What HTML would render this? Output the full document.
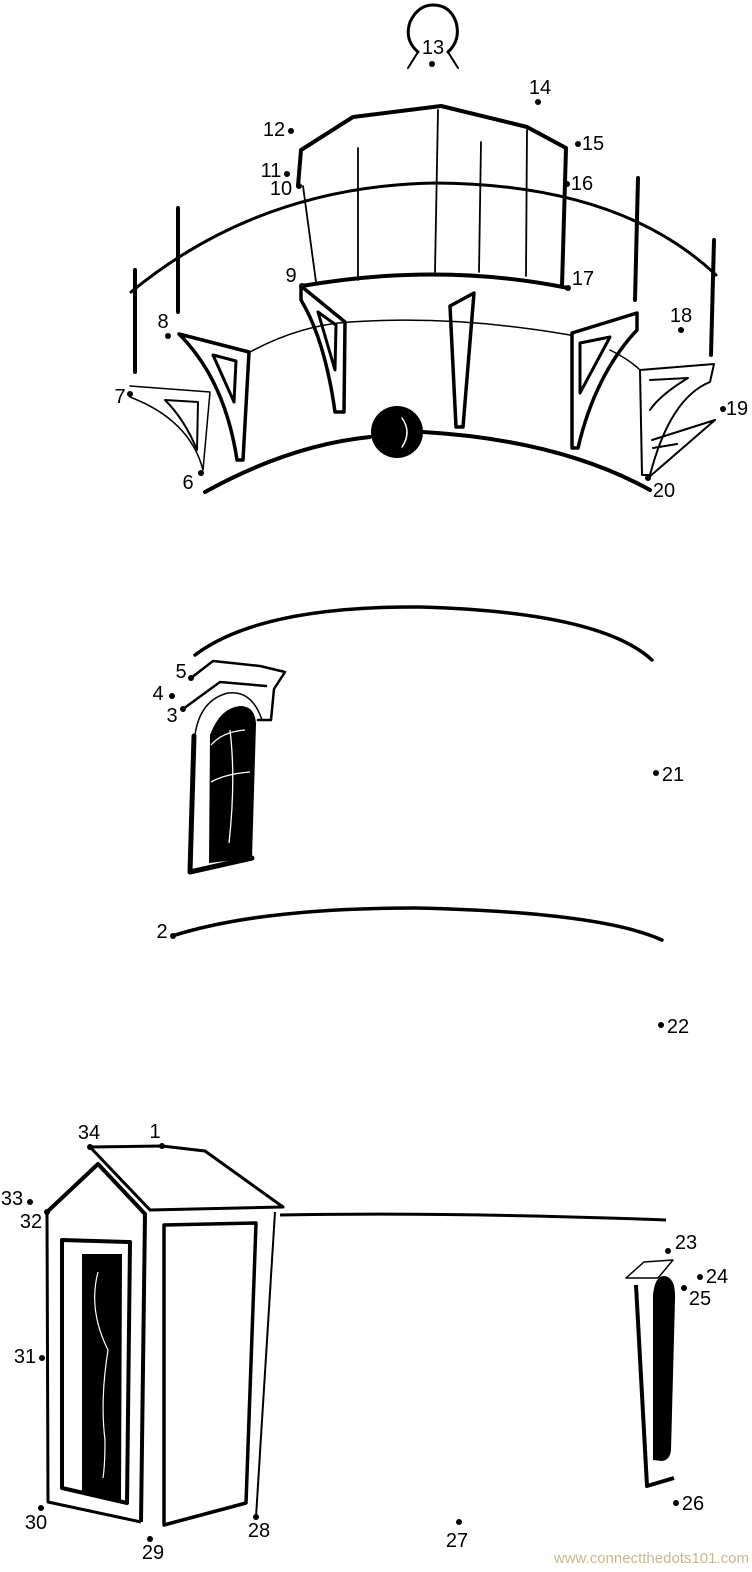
<!DOCTYPE html>
<html><head><meta charset="utf-8"><style>
html,body{margin:0;padding:0;background:#fff;}
svg{display:block;}
text{font-family:"Liberation Sans",sans-serif;font-size:20px;fill:#000;}
</style></head><body>
<svg width="752" height="1572" viewBox="0 0 752 1572" xmlns="http://www.w3.org/2000/svg">
<g fill="none" stroke="#000" stroke-linecap="round" stroke-linejoin="round">
<path d="M418,52 Q404,40 410,22 Q418,5 433,5 Q450,5 456,22 Q461,40 448,52" stroke-width="3"/>
<path d="M418,52 L408,68 M448,52 L458,68" stroke-width="2"/>
<path d="M298,186 L301,150 L353,117 L441,106 L527,127 L566,148 L562,286" stroke-width="4"/>
<path d="M303,186 L316,282 M358,148 L358,280 M438,110 L435,272 M481,142 L479,272 M527,130 L526,276" stroke-width="1.8"/>
<path d="M302,286 Q440,262 568,288" stroke-width="4"/>
<path d="M131,292 Q260,186 435,183 Q620,184 716,275" stroke-width="3"/>
<path d="M178,208 L178,312 M135,270 L135,372 M638,178 L635,300 M714,240 L711,355" stroke-width="4"/>
<path d="M250,352 Q300,325 350,322 Q455,315 570,335 M610,350 Q630,360 640,370" stroke-width="1.5"/>
<path d="M205,492 Q290,445 370,437 M423,432 Q560,440 650,490" stroke-width="4"/>
<circle cx="397" cy="432" r="26" fill="#000" stroke="none"/>
<path d="M402,418 Q412,432 402,447" stroke="#fff" stroke-width="1.5"/>
<path d="M179,334 L249,352 L243,460 L237,460 Q225,380 179,334 Z" stroke-width="3.5"/>
<path d="M213,355 L236,361 L234,402 Z" stroke-width="3"/>
<path d="M130,386 L210,392 L203,470 Q190,420 130,397" stroke-width="1.5"/>
<path d="M165,400 L198,402 L197,450 Q185,420 165,400 Z" stroke-width="2"/>
<path d="M301,286 L345,322 L344,412 L335,412 Q325,340 301,300 Z" stroke-width="3.5"/>
<path d="M318,312 L336,325 L335,370 Z" stroke-width="3"/>
<path d="M450,306 L474,293 L463,427 L456,427 Z" stroke-width="3.5"/>
<path d="M572,333 L637,313 L637,330 Q595,375 578,448 L572,448 Z" stroke-width="3.5"/>
<path d="M580,343 L610,337 L580,393 Z" stroke-width="3"/>
<path d="M640,370 L714,364 L710,382 Q670,398 650,475 L642,475 Z" stroke-width="2"/>
<path d="M650,380 L688,378 Q660,395 650,410 M652,440 L715,420 L648,478 M653,448 L677,444" stroke-width="2"/>
<path d="M195,655 Q260,606 420,607 Q600,612 652,660" stroke-width="3.5"/>
<path d="M172,936 Q260,908 415,908 Q600,912 662,940" stroke-width="3.5"/>
<path d="M191,678 L213,661 L260,666 L285,672 L274,689 L271,720 L258,720" stroke-width="2.5"/>
<path d="M183,709 L220,682 L266,686" stroke-width="2.5"/>
<path d="M262,720 Q252,690 228,693 Q200,700 195,735" stroke-width="1.5"/>
<path d="M194,736 L190,872 L252,858" stroke-width="5"/>
</g>
<path d="M210,735 Q220,708 240,706 Q255,706 256,724 L252,858 L209,863 Z" fill="#000"/>
<path d="M211,745 Q222,732 245,730 M211,782 Q225,774 250,772 M230,730 Q236,780 229,843" stroke="#fff" stroke-width="1.3" fill="none"/>
<g fill="none" stroke="#000" stroke-linejoin="round">
<path d="M90,1147 L162,1146 L205,1151 L283,1207 L150,1210 Z" stroke-width="3"/>
<path d="M47,1212 L98,1164 L145,1214 L141,1522" stroke-width="4"/>
<path d="M47,1212 L48,1502 L141,1522" stroke-width="3"/>
<path d="M164,1225 L256,1223 L246,1503 L164,1525 Z" stroke-width="3.5"/>
<path d="M275,1212 L256,1517" stroke-width="2"/>
<path d="M280,1215 Q450,1212 666,1220" stroke-width="3"/>
<path d="M62,1240 L130,1242 L127,1503 L62,1488 Z" stroke-width="4"/>
<path d="M626,1278 L644,1262 L673,1260 L658,1278 Z" stroke-width="1.5"/>
<path d="M636,1285 L647,1486 L674,1478" stroke-width="4"/>
</g>
<path d="M82,1254 L122,1254 L121,1500 L82,1492 Z" fill="#000"/>
<path d="M98,1272 Q88,1310 108,1350 Q100,1400 105,1440 Q105,1465 103,1478" stroke="#fff" stroke-width="1.2" fill="none"/>
<path d="M653,1295 Q655,1275 665,1276 Q676,1278 675,1300 L671,1450 Q670,1460 662,1461 L653,1460 Z" fill="#000"/>
<g fill="#000">
<circle cx="432" cy="64" r="3"/><circle cx="538" cy="102" r="3"/><circle cx="291" cy="131" r="3"/>
<circle cx="578" cy="144" r="3"/><circle cx="287" cy="174" r="3"/><circle cx="299" cy="186" r="3"/>
<circle cx="567" cy="184" r="3"/><circle cx="302" cy="286" r="3"/><circle cx="568" cy="288" r="3"/>
<circle cx="168" cy="336" r="3"/><circle cx="681" cy="330" r="3"/><circle cx="130" cy="394" r="3"/>
<circle cx="723" cy="409" r="3"/><circle cx="201" cy="473" r="3"/><circle cx="648" cy="478" r="3"/>
<circle cx="191" cy="678" r="3"/><circle cx="172" cy="696" r="3"/><circle cx="183" cy="709" r="3"/>
<circle cx="656" cy="773" r="3"/><circle cx="173" cy="936" r="3"/><circle cx="661" cy="1025" r="3"/>
<circle cx="90" cy="1147" r="3"/><circle cx="162" cy="1146" r="3"/><circle cx="30" cy="1202" r="3"/>
<circle cx="47" cy="1212" r="3"/><circle cx="42" cy="1358" r="3"/><circle cx="41" cy="1508" r="3"/>
<circle cx="150" cy="1539" r="3"/><circle cx="256" cy="1517" r="3"/><circle cx="459" cy="1522" r="3"/>
<circle cx="676" cy="1503" r="3"/><circle cx="684" cy="1288" r="3"/><circle cx="700" cy="1277" r="3"/>
<circle cx="668" cy="1251" r="3"/>
</g>
<g text-anchor="middle" dominant-baseline="central">
<text x="433" y="48">13</text><text x="540" y="88">14</text><text x="274" y="130">12</text>
<text x="593" y="144">15</text><text x="271" y="171">11</text><text x="281" y="189">10</text>
<text x="582" y="184">16</text><text x="291" y="276">9</text><text x="583" y="279">17</text>
<text x="163" y="322">8</text><text x="681" y="316">18</text><text x="120" y="397">7</text>
<text x="737" y="409">19</text><text x="188" y="483">6</text><text x="664" y="491">20</text>
<text x="181" y="672">5</text><text x="158" y="694">4</text><text x="172" y="716">3</text>
<text x="673" y="775">21</text><text x="162" y="932">2</text><text x="678" y="1027">22</text>
<text x="89" y="1133">34</text><text x="155" y="1132">1</text><text x="12" y="1199">33</text>
<text x="31" y="1222">32</text><text x="25" y="1357">31</text><text x="36" y="1523">30</text>
<text x="153" y="1553">29</text><text x="259" y="1531">28</text><text x="457" y="1541">27</text>
<text x="693" y="1504">26</text><text x="700" y="1299">25</text><text x="717" y="1277">24</text>
<text x="686" y="1243">23</text>
</g>
<text x="749" y="1563" text-anchor="end" style="font-size:15px;fill:#c8b888;">www.connectthedots101.com</text>
</svg>
</body></html>
